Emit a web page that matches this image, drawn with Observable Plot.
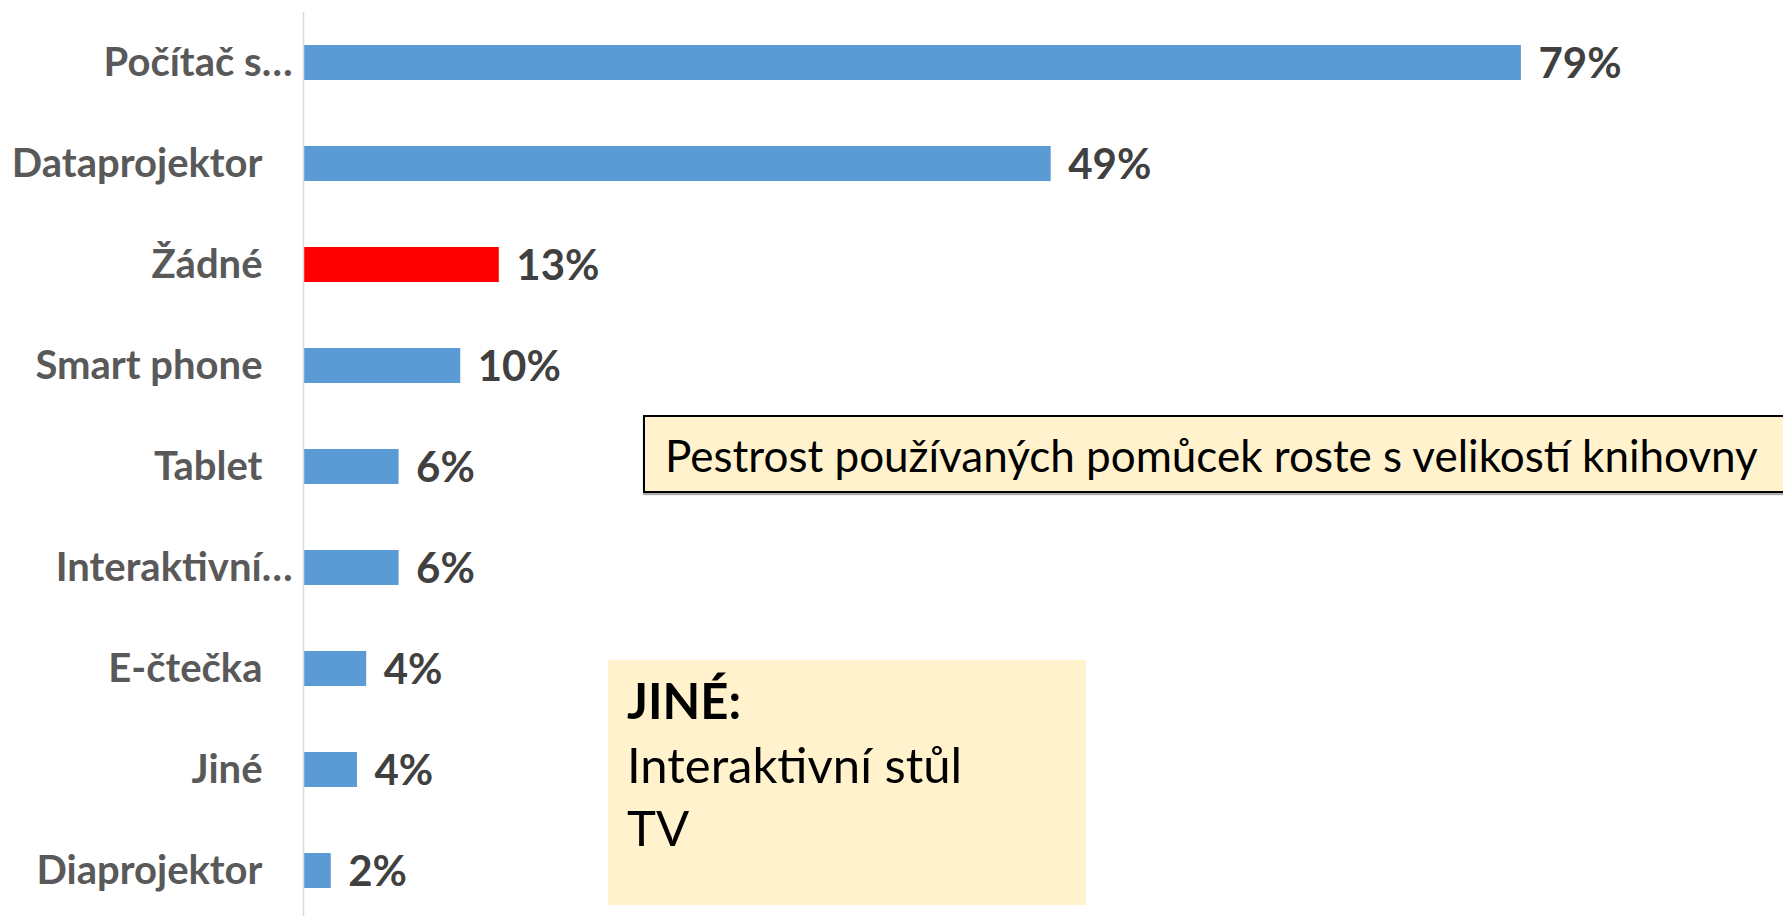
<!DOCTYPE html>
<html>
<head>
<meta charset="utf-8">
<script src="https://cdn.jsdelivr.net/npm/d3@7"></script>
<script src="https://cdn.jsdelivr.net/npm/@observablehq/plot@0.6"></script>
<style>
  html, body { margin: 0; padding: 0; background: #fff; overflow: hidden; }
  #wrap { position: relative; width: 1783px; height: 916px; overflow: hidden; }
  #chart svg { display: block; }
  .note { position: absolute; background: #FFF2CC; color: #000; font-family: Lato, "Open Sans", sans-serif; box-sizing: border-box; white-space: nowrap; }
  #note1 { left: 643px; top: 415px; width: 1160px; height: 78px; border: 2px solid #000; border-right: none;
           font-size: 44px; line-height: 74px; padding-left: 20px; padding-top: 1px; box-shadow: 0 2px 1px #aaa; }
  #note2 { left: 608px; top: 660px; width: 478px; height: 245px; font-size: 49px; line-height: 63.5px;
           padding-left: 19px; padding-top: 9px; }
  #note2 b { font-weight: bold; }
</style>
</head>
<body>
<div id="wrap">
  <div id="chart"></div>
  <div class="note" id="note1">Pestrost používaných pomůcek roste s velikostí knihovny</div>
  <div class="note" id="note2"><b>JINÉ:</b><br>Interaktivní stůl<br>TV</div>
</div>
<script>
// Categories (top to bottom) as shown on the axis
const categories = ["Počítač s…", "Dataprojektor", "Žádné", "Smart phone", "Tablet", "Interaktivní…", "E-čtečka", "Jiné", "Diaprojektor"];
// Share of libraries (%)
const values = [79, 48.5, 12.7, 10.2, 6.2, 6.2, 4.1, 3.5, 1.8];
// Category highlighted in red
const highlighted = ["Žádné"];

const data = categories.map((c, i) => ({category: c, value: values[i]}));
const isTrunc = d => d.category.endsWith("…");

const font = "Lato, 'Open Sans', sans-serif";

const chart = Plot.plot({
  width: 1783,
  height: 921,
  marginLeft: 303,
  marginRight: 0,
  marginTop: 12,
  marginBottom: 0,
  style: {background: "transparent", fontFamily: font, overflow: "visible"},
  x: {domain: [0, 96], axis: null},
  y: {domain: categories, paddingInner: 0.649, paddingOuter: 0.319, axis: null},
  marks: [
    Plot.barX(data.filter(d => !highlighted.includes(d.category)), {x: "value", y: "category", fill: "#5B9BD5"}),
    Plot.barX(data.filter(d => highlighted.includes(d.category)), {x: "value", y: "category", fill: "#FF0000"}),
    Plot.ruleX([0], {stroke: "#D9D9D9", strokeWidth: 1.5}),
    Plot.text(data, {x: "value", y: "category", text: d => Math.round(d.value) + "%", textAnchor: "start",
      dx: 17, dy: 2, fontSize: 42, fontWeight: "bold", fill: "#404040"}),
    Plot.text(data.filter(d => !isTrunc(d)), {x: 0, y: "category", text: "category", textAnchor: "end",
      dx: -41, fontSize: 40, fontWeight: "bold", fill: "#595959"}),
    Plot.text(data.filter(isTrunc), {x: 0, y: "category", text: "category", textAnchor: "end",
      dx: -11, fontSize: 40, fontWeight: "bold", fill: "#595959"})
  ]
});
document.getElementById("chart").append(chart);
</script>
</body>
</html>
